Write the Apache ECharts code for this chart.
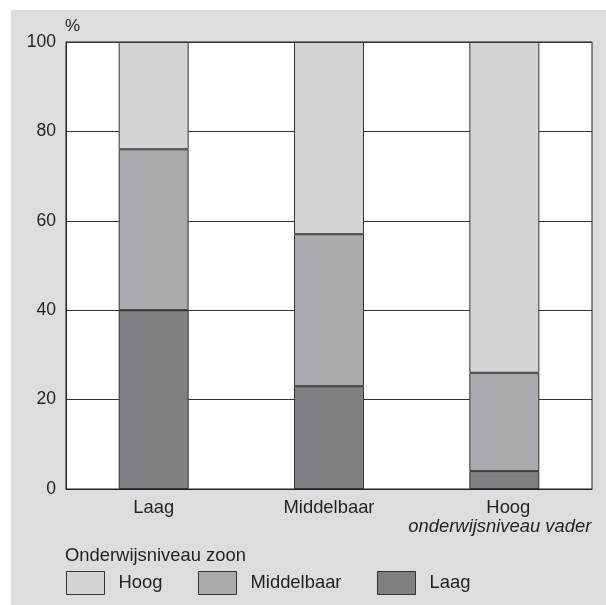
<!DOCTYPE html>
<html>
<head>
<meta charset="utf-8">
<script src="https://cdn.jsdelivr.net/npm/echarts@6/dist/echarts.min.js"></script>
<style>
  html, body { margin: 0; padding: 0; background: #ffffff; width: 606px; height: 605px; overflow: hidden; }
  #chart { position: absolute; left: 11px; top: 10px; width: 595px; height: 595px; background: #dcdddf; }
</style>
</head>
<body>
<div id="chart"></div>
<script>
const categories = ['Laag', 'Middelbaar', 'Hoog'];
const laag = [40, 23, 4];
const middelbaar = [36, 34, 22];
const hoog = [24, 43, 74];
const yTicks = [0, 20, 40, 60, 80, 100];

const colors = { Hoog: '#d3d4d6', Middelbaar: '#a9aaad', Laag: '#7f8083' };
const font = 'Liberation Sans, Arial, sans-serif';
const textColor = '#231f20';
const fs = 18.4;

const chart = echarts.init(document.getElementById('chart'), null, { renderer: 'canvas' });

function series(name, data) {
  return {
    name: name, type: 'bar', stack: 'total', data: data, barWidth: 70,
    itemStyle: { color: colors[name], borderColor: '#333333', borderWidth: 1 }
  };
}
function legend(name, left) {
  return {
    data: [name], left: left, top: 561, padding: 0,
    icon: 'rect', itemWidth: 38, itemHeight: 23,
    itemStyle: { borderColor: '#333333', borderWidth: 1 },
    textStyle: { fontFamily: font, fontSize: fs, color: textColor, padding: [9, 0, 0, 9] },
    selectedMode: false
  };
}

chart.setOption({
  animation: false,
  title: {
    text: 'Onderwijsniveau zoon', left: 54, top: 537, padding: 0,
    textStyle: { fontFamily: font, fontSize: fs, fontWeight: 'normal', color: textColor }
  },
  legend: [legend('Hoog', 55), legend('Middelbaar', 187), legend('Laag', 366)],
  grid: {
    left: 55, top: 32, width: 526, height: 447,
    show: true, backgroundColor: '#ffffff', borderColor: '#222222', borderWidth: 1
  },
  xAxis: {
    type: 'category', data: categories,
    axisLine: { lineStyle: { color: '#222222', width: 1 } },
    axisTick: { show: false },
    axisLabel: {
      interval: 0, margin: 9, fontFamily: font, fontSize: fs, color: textColor,
      formatter: function (v) { return v === 'Hoog' ? '{h|Hoog}\n{b|onderwijsniveau vader}' : '{a|' + v + '}'; },
      rich: {
        a: { fontFamily: font, fontSize: fs, color: textColor, lineHeight: 19 },
        h: { fontFamily: font, fontSize: fs, color: textColor, lineHeight: 19, padding: [0, 0, 0, 8] },
        b: { fontFamily: font, fontSize: fs, color: textColor, fontStyle: 'italic', lineHeight: 19, padding: [0, 9, 0, 0] }
      }
    }
  },
  yAxis: {
    type: 'value', min: yTicks[0], max: yTicks[yTicks.length - 1], interval: 20,
    name: '%', nameLocation: 'end', nameGap: 7,
    nameTextStyle: { fontFamily: font, fontSize: 17, color: textColor, align: 'left', padding: [0, 0, 0, -1] },
    axisLine: { show: true, lineStyle: { color: '#222222' } },
    axisTick: { show: false },
    axisLabel: { margin: 10, fontFamily: font, fontSize: 17.6, color: textColor },
    splitLine: { lineStyle: { color: '#333333', width: 1 } }
  },
  series: [series('Laag', laag), series('Middelbaar', middelbaar), series('Hoog', hoog)]
});
</script>
</body>
</html>
